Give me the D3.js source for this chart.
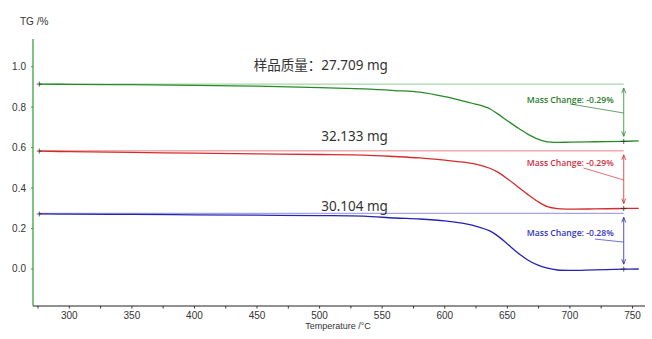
<!DOCTYPE html>
<html>
<head>
<meta charset="utf-8">
<script src="https://cdn.jsdelivr.net/npm/d3@7"></script>
<style>
  body { margin: 0; background: #fff; }
  svg { display: block; }
</style>
</head>
<body>
<svg id="tg" width="652" height="339"></svg>
<script>
var temps = [276, 300, 350, 400, 450, 500, 535, 560, 580, 600, 615, 628, 636, 642, 650, 658, 666, 674, 682, 690, 700, 720, 743, 755];

var greenTG = [0.914, 0.913, 0.911, 0.908, 0.904, 0.897, 0.890, 0.882, 0.874, 0.852, 0.830, 0.810, 0.792, 0.768, 0.733, 0.699, 0.668, 0.643, 0.628, 0.626, 0.627, 0.629, 0.631, 0.633];
var redTG   = [0.583, 0.580, 0.576, 0.573, 0.569, 0.566, 0.563, 0.556, 0.549, 0.538, 0.528, 0.514, 0.498, 0.480, 0.446, 0.408, 0.370, 0.335, 0.308, 0.298, 0.296, 0.297, 0.299, 0.300];
var blueTG  = [0.272, 0.271, 0.270, 0.268, 0.266, 0.264, 0.261, 0.252, 0.247, 0.238, 0.225, 0.206, 0.188, 0.165, 0.124, 0.082, 0.046, 0.020, 0.004, -0.005, -0.007, -0.004, -0.001, 0.000];

var massLabels = ["样品质量：27.709 mg", "32.133 mg", "30.104 mg"];
var changeLabels = ["Mass Change: -0.29%", "Mass Change: -0.29%", "Mass Change: -0.28%"];
var refLevels = [0.914, 0.584, 0.275];   // initial level lines
var endLevels = [0.631, 0.299, -0.001];  // value at the step mark
var stepTemp = 743;

var xTicks = [300, 350, 400, 450, 500, 550, 600, 650, 700, 750];
var yTicks = [0.0, 0.2, 0.4, 0.6, 0.8, 1.0];

var svg = d3.select("#tg");

var x = d3.scaleLinear().domain([271, 760]).range([33, 645]);
var y = d3.scaleLinear().domain([-0.183, 1.137]).range([306, 39]);

var series = [
  { vals: greenTG, line: "#278a27", ref: "#a9d6a9", text: "#2b7d2b", massY: 0.984, chY: 0.82, lead: [[700, 0.816], [743, 0.771]] },
  { vals: redTG,   line: "#d62b2b", ref: "#e88080", text: "#d2303c", massY: 0.633, chY: 0.509, lead: [[711, 0.499], [743, 0.44]] },
  { vals: blueTG,  line: "#2424b4", ref: "#a4a4e4", text: "#3434c4", massY: 0.287, chY: 0.163, lead: [[720, 0.148], [743, 0.133]] }
];

// x axis
var xAxis = svg.append("g")
    .attr("transform", "translate(0,306)");
xAxis.append("line")
    .attr("x1", 33).attr("x2", 645)
    .attr("stroke", "#222").attr("stroke-width", 1);
xAxis.selectAll(".minor")
    .data(d3.range(275, 760, 25))
  .enter().append("line")
    .attr("x1", function(d) { return x(d); })
    .attr("x2", function(d) { return x(d); })
    .attr("y1", 0).attr("y2", 2.5)
    .attr("stroke", "#333");
xAxis.selectAll("text")
    .data(xTicks)
  .enter().append("text")
    .attr("x", function(d) { return x(d); })
    .attr("y", 13)
    .attr("text-anchor", "middle")
    .attr("font-family", "Liberation Sans, Arial, sans-serif")
    .attr("font-size", 10)
    .attr("fill", "#333")
    .text(function(d) { return d; });

svg.append("text")
    .attr("x", 338).attr("y", 329)
    .attr("text-anchor", "middle")
    .attr("font-family", "Liberation Sans, Arial, sans-serif")
    .attr("font-size", 9)
    .attr("fill", "#333")
    .text("Temperature /°C");

// y axis
var yAxis = svg.append("g");
yAxis.append("line")
    .attr("x1", 33).attr("x2", 33)
    .attr("y1", 39).attr("y2", 306)
    .attr("stroke", "#3ea23e").attr("stroke-width", 1.3);
yAxis.selectAll(".tk")
    .data(yTicks)
  .enter().append("line")
    .attr("x1", 31).attr("x2", 33)
    .attr("y1", function(d) { return y(d); })
    .attr("y2", function(d) { return y(d); })
    .attr("stroke", "#3ea23e");
yAxis.selectAll("text")
    .data(yTicks)
  .enter().append("text")
    .attr("x", 26)
    .attr("y", function(d) { return y(d) + 3.5; })
    .attr("text-anchor", "end")
    .attr("font-family", "Liberation Sans, Arial, sans-serif")
    .attr("font-size", 10)
    .attr("fill", "#333")
    .text(function(d) { return d3.format(".1f")(d); });

svg.append("text")
    .attr("x", 20).attr("y", 25)
    .attr("font-family", "Liberation Sans, Arial, sans-serif")
    .attr("font-size", 10)
    .attr("fill", "#333")
    .text("TG /%");

var line = d3.line()
    .x(function(d) { return x(d[0]); })
    .y(function(d) { return y(d[1]); })
    .curve(d3.curveCatmullRom.alpha(0.5));

series.forEach(function(s, i) {
  var sx = x(stepTemp), top = y(refLevels[i]), bot = y(endLevels[i]);

  // level line
  svg.append("line")
      .attr("x1", x(temps[0])).attr("x2", sx)
      .attr("y1", top).attr("y2", top)
      .attr("stroke", s.ref).attr("stroke-width", i == 1 ? 1 : 1.4);

  // curve
  svg.append("path")
      .datum(d3.zip(temps, s.vals))
      .attr("d", line)
      .attr("fill", "none")
      .attr("stroke", s.line)
      .attr("stroke-width", 1.3);

  // start mark
  svg.append("path")
      .attr("d", "M" + (x(temps[0]) - 2.5) + "," + y(s.vals[0]) + "h5M" + x(temps[0]) + "," + (y(s.vals[0]) - 2.5) + "v5")
      .attr("stroke", "#333").attr("stroke-width", 0.8);

  // step arrow with heads at both ends
  svg.append("path")
      .attr("d", "M" + sx + "," + (top + 4) + "V" + (bot - 5) +
                 "M" + (sx - 2) + "," + (top + 9) + "L" + sx + "," + (top + 4) + "L" + (sx + 2) + "," + (top + 9) +
                 "M" + (sx - 2) + "," + (bot - 10) + "L" + sx + "," + (bot - 5) + "L" + (sx + 2) + "," + (bot - 10))
      .attr("fill", "none")
      .attr("stroke", s.line).attr("stroke-width", 0.8);
  svg.append("path")
      .attr("d", "M" + (sx - 3) + "," + bot + "h6M" + sx + "," + (bot - 2.5) + "v5")
      .attr("stroke", "#333").attr("stroke-width", 0.8);

  // leader line
  svg.append("line")
      .attr("x1", x(s.lead[0][0])).attr("y1", y(s.lead[0][1]))
      .attr("x2", x(s.lead[1][0])).attr("y2", y(s.lead[1][1]))
      .attr("stroke", s.text).attr("stroke-width", 0.7);

  svg.append("text")
      .attr("x", x(735)).attr("y", y(s.chY))
      .attr("text-anchor", "end")
      .attr("font-family", "Open Sans, sans-serif")
      .attr("font-weight", 600)
      .attr("font-size", 8.8)
      .attr("textLength", 87)
      .attr("lengthAdjust", "spacingAndGlyphs")
      .attr("fill", s.text)
      .text(changeLabels[i]);

  // sample mass
  svg.append("text")
      .attr("x", x(554.6)).attr("y", y(s.massY))
      .attr("text-anchor", "end")
      .attr("font-family", "Noto Sans, Noto Sans CJK SC, sans-serif")
      .attr("font-size", 13.5)
      .attr("fill", "#333")
      .text(massLabels[i]);
});
</script>
</body>
</html>
